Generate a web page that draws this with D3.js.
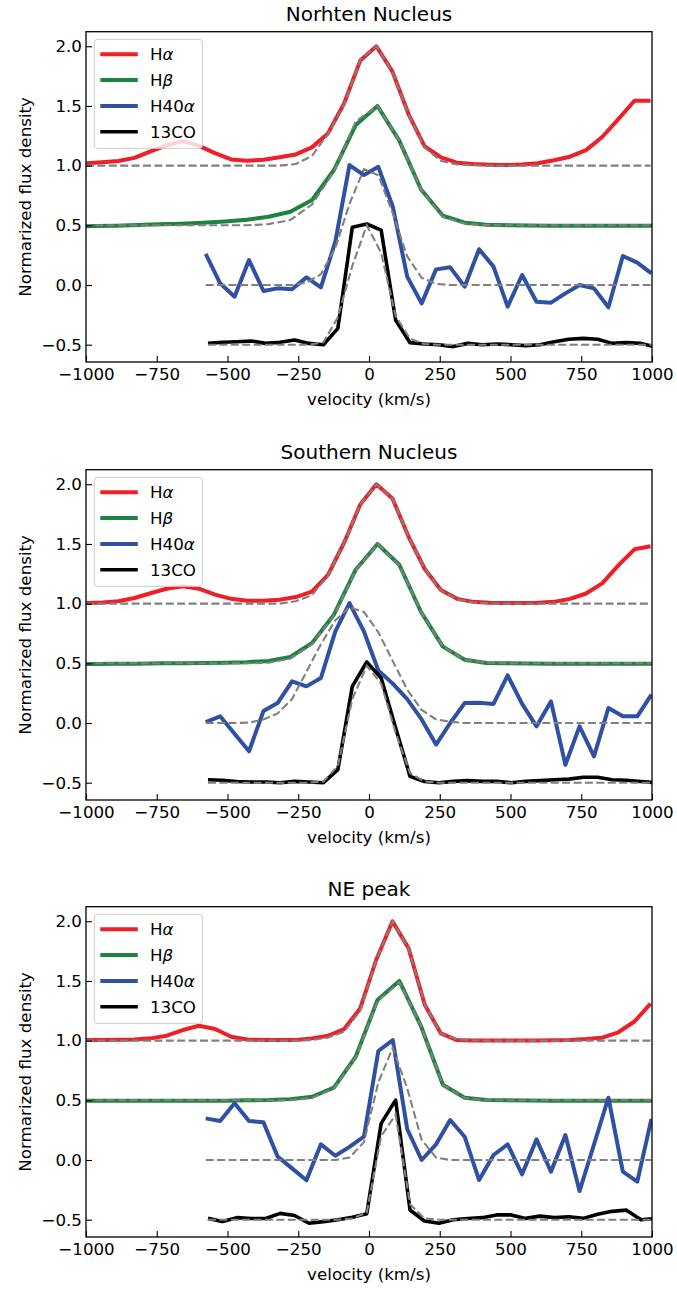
<!DOCTYPE html>
<html><head><meta charset="utf-8">
<script src="https://cdn.jsdelivr.net/npm/d3@7"></script>
<style>body{margin:0;background:#fff} text{font-family:"DejaVu Sans",sans-serif;fill:#000}</style>
</head><body><svg id="c" width="677" height="1290"></svg>
<script>
// ---------- DATA ----------
const titles = ["Norhten Nucleus", "Southern Nucleus", "NE peak"];
const seriesNames = ["Hα", "Hβ", "H40α", "13CO"];
const xTicks = [-1000, -750, -500, -250, 0, 250, 500, 750, 1000];
const yTicks = [-0.5, 0.0, 0.5, 1.0, 1.5, 2.0];

const velHa = [-1000,-943,-886,-829,-772,-715,-658,-601,-544,-487,-430,-373,-316,-259,-202,-145,-88,-31,26,83,140,197,254,311,368,425,482,539,596,653,710,767,824,881,938,995];
const velHb = [-1048,-971,-894,-817,-740,-663,-586,-509,-432,-355,-278,-201,-124,-47,30,107,184,261,338,415,492,569,646,723,800,877,954,1031];
const velH40 = [-577,-526,-475,-424,-373,-323,-272,-221,-170,-119,-69,-18,33,84,135,186,237,287,338,389,440,490,541,592,643,694,744,795,846,897,948,998];
const velCO = [-569,-518,-467,-416,-365,-314,-263,-212,-161,-110,-59,-8,43,94,145,196,247,298,349,400,451,502,553,604,655,706,757,808,859,910,961,1012];

// Northern nucleus
const ha1 = [1.019,1.028,1.039,1.065,1.12,1.17,1.205,1.165,1.105,1.052,1.041,1.05,1.07,1.094,1.153,1.27,1.52,1.88,2.0,1.787,1.43,1.16,1.07,1.025,1.013,1.008,1.005,1.01,1.02,1.045,1.075,1.13,1.24,1.39,1.544,1.544];
const ha1m = [1,1,1,1,1,1,1,1,1,1,1,1,1,1.013,1.08,1.265,1.51,1.89,2.0,1.787,1.43,1.15,1.04,1.01,1.003,1,1,1,1,1,1,1,1,1,1,1];
const hb1 = [0.492,0.494,0.497,0.503,0.508,0.514,0.522,0.533,0.547,0.572,0.614,0.712,0.963,1.34,1.5,1.21,0.80,0.58,0.522,0.505,0.50,0.498,0.497,0.497,0.497,0.497,0.497,0.497];
const hb1m = [0.5,0.5,0.5,0.5,0.5,0.5,0.5,0.5,0.5,0.51,0.545,0.675,0.95,1.37,1.5,1.21,0.8,0.57,0.515,0.502,0.5,0.5,0.5,0.5,0.5,0.5,0.5,0.5];
const h401 = [0.26,0.014,-0.098,0.209,-0.05,-0.028,-0.036,0.064,-0.02,0.363,1.005,0.921,0.99,0.656,0.07,-0.154,0.131,0.148,-0.014,0.30,0.154,-0.181,0.084,-0.14,-0.148,-0.07,0.0,-0.028,-0.187,0.243,0.187,0.098];
const h401m = [0,0,0,0,0,0,0,0.02,0.09,0.31,0.68,0.97,0.92,0.6,0.24,0.06,0.01,0,0,0,0,0,0,0,0,0,0,0,0,0,0,0];
const co1 = [-0.489,-0.48,-0.475,-0.469,-0.489,-0.48,-0.46,-0.489,-0.5,-0.363,0.483,0.511,0.46,-0.293,-0.483,-0.494,-0.5,-0.516,-0.489,-0.5,-0.494,-0.5,-0.508,-0.5,-0.475,-0.455,-0.447,-0.455,-0.489,-0.483,-0.489,-0.52];
const co1m = [-0.5,-0.5,-0.5,-0.5,-0.5,-0.5,-0.5,-0.5,-0.48,-0.27,0.16,0.5,0.27,-0.26,-0.45,-0.495,-0.5,-0.5,-0.5,-0.5,-0.5,-0.5,-0.5,-0.5,-0.5,-0.5,-0.5,-0.5,-0.5,-0.5,-0.5,-0.5];

// Southern nucleus
const ha2 = [1.005,1.01,1.02,1.047,1.087,1.125,1.145,1.125,1.075,1.04,1.025,1.025,1.033,1.055,1.10,1.24,1.51,1.83,2.0,1.88,1.56,1.29,1.115,1.04,1.015,1.008,1.005,1.005,1.008,1.015,1.04,1.085,1.17,1.32,1.455,1.48];
const ha2m = [1,1,1,1,1,1,1,1,1,1,1,1,1,1.02,1.07,1.235,1.51,1.83,2.0,1.88,1.56,1.29,1.11,1.035,1.01,1.003,1,1,1,1,1,1,1,1,1,1];
const hb2 = [0.495,0.495,0.497,0.497,0.5,0.5,0.503,0.505,0.51,0.52,0.553,0.67,0.907,1.284,1.5,1.326,0.93,0.64,0.53,0.502,0.5,0.498,0.497,0.497,0.497,0.497,0.497,0.497];
const hb2m = [0.5,0.5,0.5,0.5,0.5,0.5,0.5,0.5,0.5,0.505,0.54,0.66,0.9,1.28,1.5,1.32,0.93,0.64,0.53,0.505,0.5,0.5,0.5,0.5,0.5,0.5,0.5,0.5];
const h402 = [0.008,0.056,-0.09,-0.237,0.1,0.167,0.349,0.307,0.377,0.768,1.005,0.768,0.44,0.33,0.2,0.03,-0.181,0.0,0.167,0.17,0.16,0.399,0.16,-0.028,0.181,-0.35,-0.028,-0.279,0.126,0.056,0.056,0.237];
const h402m = [0,0,0,0.003,0.03,0.08,0.2,0.43,0.66,0.86,0.97,0.93,0.76,0.52,0.28,0.11,0.03,0.01,0,0,0,0,0,0,0,0,0,0,0,0,0,0];
const co2 = [-0.475,-0.48,-0.49,-0.494,-0.494,-0.5,-0.489,-0.494,-0.5,-0.39,0.307,0.511,0.377,-0.04,-0.447,-0.49,-0.5,-0.489,-0.483,-0.489,-0.489,-0.5,-0.489,-0.483,-0.475,-0.47,-0.455,-0.455,-0.475,-0.48,-0.49,-0.5];
const co2m = [-0.5,-0.5,-0.5,-0.5,-0.5,-0.5,-0.5,-0.5,-0.49,-0.36,0.2,0.48,0.33,-0.08,-0.42,-0.49,-0.5,-0.5,-0.5,-0.5,-0.5,-0.5,-0.5,-0.5,-0.5,-0.5,-0.5,-0.5,-0.5,-0.5,-0.5,-0.5];

// NE peak
const ha3 = [1.005,1.005,1.008,1.01,1.019,1.041,1.089,1.125,1.097,1.033,1.01,1.005,1.005,1.005,1.019,1.041,1.097,1.27,1.68,2.0,1.773,1.30,1.06,1.005,1.002,1.002,1.002,1.002,1.002,1.003,1.005,1.013,1.025,1.07,1.16,1.31];
const ha3m = [1,1,1,1,1,1,1,1,1,1,1,1,1,1,1.005,1.025,1.075,1.25,1.68,2.0,1.773,1.3,1.06,1.01,1.002,1,1,1,1,1,1,1,1,1,1,1];
const hb3 = [0.497,0.497,0.497,0.497,0.497,0.497,0.497,0.497,0.5,0.502,0.51,0.53,0.606,0.865,1.34,1.5,1.12,0.63,0.522,0.502,0.5,0.498,0.497,0.497,0.497,0.497,0.497,0.497];
const hb3m = [0.5,0.5,0.5,0.5,0.5,0.5,0.5,0.5,0.5,0.5,0.5,0.52,0.6,0.86,1.33,1.49,1.12,0.63,0.52,0.5,0.5,0.5,0.5,0.5,0.5,0.5,0.5,0.5];
const h403 = [0.349,0.327,0.475,0.327,0.316,0.03,-0.07,-0.17,0.131,0.036,0.11,0.195,0.913,1.005,0.26,0.0,0.131,0.335,0.195,-0.168,0.042,0.131,-0.12,0.173,-0.098,0.209,-0.26,0.13,0.522,-0.098,-0.181,0.343];
const h403m = [0,0,0,0,0,0,0,0,0,0,0.02,0.15,0.65,0.94,0.6,0.17,0.02,0,0,0,0,0,0,0,0,0,0,0,0,0,0,0];
const co3 = [-0.489,-0.516,-0.483,-0.49,-0.49,-0.447,-0.465,-0.53,-0.516,-0.5,-0.48,-0.45,0.307,0.502,-0.419,-0.511,-0.53,-0.5,-0.49,-0.483,-0.46,-0.46,-0.489,-0.47,-0.483,-0.475,-0.489,-0.455,-0.43,-0.42,-0.5,-0.49];
const co3m = [-0.5,-0.5,-0.5,-0.5,-0.5,-0.5,-0.5,-0.5,-0.5,-0.5,-0.49,-0.44,0.2,0.38,-0.37,-0.49,-0.5,-0.5,-0.5,-0.5,-0.5,-0.5,-0.5,-0.5,-0.5,-0.5,-0.5,-0.5,-0.5,-0.5,-0.5,-0.5];

// ---------- LAYOUT / STYLE ----------
const colors = ["#ee1f26", "#1c843e", "#2f50a3", "#000000"];
const vels = [velHa, velHb, velH40, velCO];
const panels = [
  {data: [ha1, hb1, h401, co1], model: [ha1m, hb1m, h401m, co1m]},
  {data: [ha2, hb2, h402, co2], model: [ha2m, hb2m, h402m, co2m]},
  {data: [ha3, hb3, h403, co3], model: [ha3m, hb3m, h403m, co3m]}
];
const L = 86, R = 652, PH = 330.3;
const tops = [31.7, 469.7, 906.7];
const FS = 16.7;

const svg = d3.select("#c");
svg.append("rect").attr("width", 677).attr("height", 1290).attr("fill", "#fff");
const x = d3.scaleLinear().domain([-1000, 1000]).range([L, R]);

panels.forEach((p, i) => {
  const top = tops[i];
  const y = d3.scaleLinear().domain([-0.645, 2.122]).range([top + PH, top]);
  const g = svg.append("g");
  const cid = "clip" + i;
  svg.append("defs").append("clipPath").attr("id", cid)
    .append("rect").attr("x", L).attr("y", top).attr("width", R - L).attr("height", PH);

  const plot = g.append("g").attr("clip-path", `url(#${cid})`);
  const line = d3.line().x(d => x(d[0])).y(d => y(d[1]));
  p.data.forEach((arr, k) => {
    const pts = vels[k].map((v, j) => [v, arr[j]]);
    plot.append("path").attr("d", line(pts)).attr("fill", "none")
      .attr("stroke", colors[k]).attr("stroke-width", k === 3 ? 3.6 : 4)
      .attr("stroke-linejoin", "round");
    const mpts = vels[k].map((v, j) => [v, p.model[k][j]]);
    plot.append("path").attr("d", line(mpts)).attr("fill", "none")
      .attr("stroke", "#808080").attr("stroke-width", 2.1)
      .attr("stroke-dasharray", "8,3.4");
  });

  // axes
  const xa = g.append("g").attr("transform", `translate(0,${top + PH})`)
    .call(d3.axisBottom(x).tickValues(xTicks).tickSizeInner(-6).tickSizeOuter(0).tickPadding(6.6).tickFormat(d3.format("d")));
  const ya = g.append("g").attr("transform", `translate(${L},0)`)
    .call(d3.axisLeft(y).tickValues(yTicks).tickSizeInner(-6).tickSizeOuter(0).tickPadding(4).tickFormat(d3.format(".1f")));
  [xa, ya].forEach(a => {
    a.select(".domain").remove();
    a.selectAll("line").attr("stroke", "#000").attr("stroke-width", 1.1);
    a.selectAll("text").attr("font-size", FS).attr("font-family", "DejaVu Sans").attr("fill", "#000");
  });
  g.append("rect").attr("x", L).attr("y", top).attr("width", R - L).attr("height", PH)
    .attr("fill", "none").attr("stroke", "#000").attr("stroke-width", 1.3);

  // labels
  g.append("text").attr("x", (L + R) / 2).attr("y", top - 11.2).attr("text-anchor", "middle")
    .attr("font-size", 20).text(titles[i]);
  g.append("text").attr("x", (L + R) / 2).attr("y", top + PH + 43).attr("text-anchor", "middle")
    .attr("font-size", FS).text("velocity (km/s)");
  g.append("text").attr("transform", `translate(30.5,${top + PH / 2}) rotate(-90)`)
    .attr("text-anchor", "middle").attr("font-size", FS).text("Normarized flux density");

  // legend
  const lg = g.append("g").attr("transform", `translate(94.3,${top + 7.6})`);
  lg.append("rect").attr("width", 108).attr("height", 109).attr("rx", 3)
    .attr("fill", "#fff").attr("fill-opacity", 0.8).attr("stroke", "#cccccc").attr("stroke-width", 1);
  seriesNames.forEach((nm, k) => {
    const yy = 15 + k * 25.8;
    lg.append("line").attr("x1", 6).attr("x2", 43.5).attr("y1", yy).attr("y2", yy)
      .attr("stroke", colors[k]).attr("stroke-width", k === 3 ? 3.6 : 4);
    const t = lg.append("text").attr("x", 55.7).attr("y", yy).attr("dy", "0.36em").attr("font-size", FS);
    const m = nm.match(/^(H\d*)([αβ])$/);
    if (m) {
      t.append("tspan").text(m[1]);
      t.append("tspan").attr("font-style", "italic").text(m[2]);
    } else t.text(nm);
  });
});
</script></body></html>
